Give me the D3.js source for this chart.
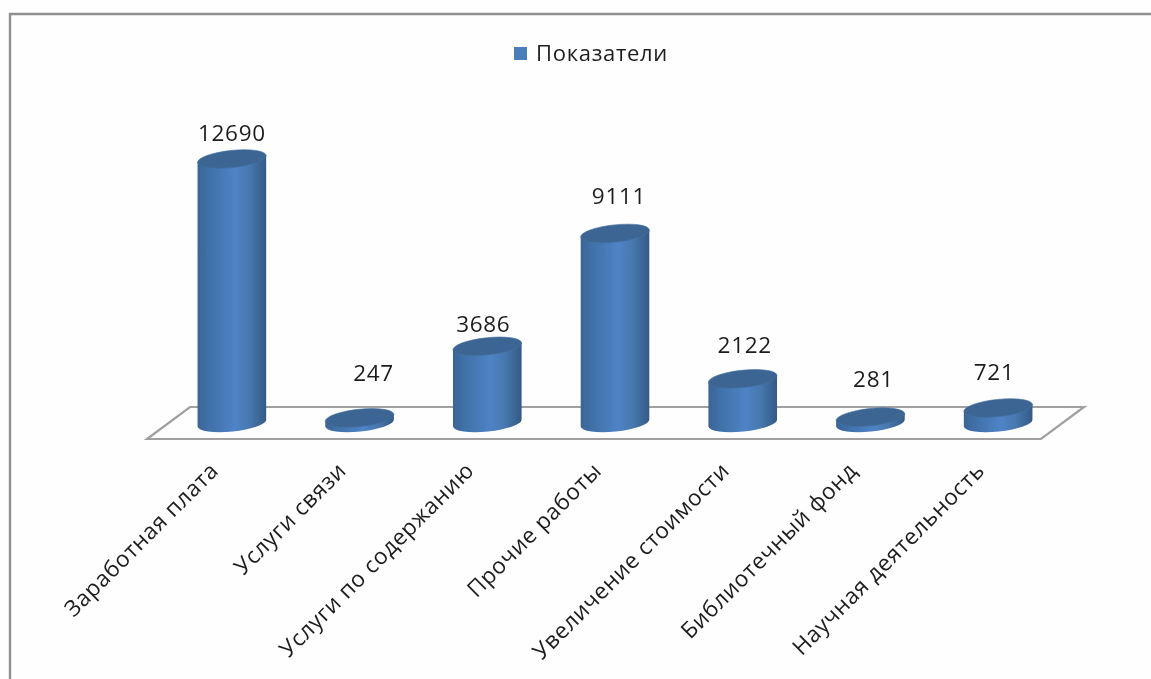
<!DOCTYPE html>
<html><head><meta charset="utf-8">
<script src="https://cdnjs.cloudflare.com/ajax/libs/d3/7.8.5/d3.min.js"></script>
<style>html,body{margin:0;padding:0;background:#fefefe}svg{display:block}text{font-family:"Open Sans",sans-serif;fill:#1f1f1f}</style>
</head><body><svg id="c" width="1151" height="679"></svg>
<script>
const categories = ["Заработная плата","Услуги связи","Услуги по содержанию","Прочие работы","Увеличение стоимости","Библиотечный фонд","Научная деятельность"];
const values = [12690,247,3686,9111,2122,281,721];
const seriesName = "Показатели";
// hand-placed label offsets, as in the source chart (from the top of each cylinder)
const labelDx = [0,14,-4,4,2,3,-4];
const labelDy = [-18,-37,-14,-29.5,-26,-30,-28];

const svg = d3.select("#c");
const x = d3.scaleBand().domain(categories).range([168,1062]).paddingInner(0);
const y = d3.scaleLinear().domain([0,12690]).range([423,159]);
const rx = 34.5, ry = 8.6, tilt = -6, rad = tilt*Math.PI/180;
const cxOf = d => x(d)+x.bandwidth()/2;

const defs = svg.append("defs");
const grad = defs.append("linearGradient").attr("id","body").attr("x1",0).attr("x2",1).attr("y1",0).attr("y2",0);
[[0,"#3a6595"],[.18,"#4071aa"],[.55,"#4f83c6"],[.75,"#4878b0"],[.92,"#3a6494"],[1,"#355a86"]].forEach(s=>grad.append("stop").attr("offset",s[0]).attr("stop-color",s[1]));
defs.append("filter").attr("id","soft").append("feGaussianBlur").attr("stdDeviation",0.4);

const root = svg.append("g").attr("filter","url(#soft)");

// frame
root.append("path").attr("d","M10,679V14H1151").attr("fill","none").attr("stroke","#8f8f8f").attr("stroke-width",2.4);
// floor
const floor = [[147,439],[190,407],[1084,407],[1041,439]];
root.append("path").attr("d",d3.line()(floor)+"Z").attr("fill","none").attr("stroke","#a0a0a0").attr("stroke-width",2.2);

// cylinders
const g = root.append("g").selectAll("g").data(categories).join("g");
const dx = rx*Math.cos(rad), dy = rx*Math.sin(rad);
g.append("path").attr("fill","url(#body)").attr("d",(d,i)=>{
  const c=cxOf(d), t=y(values[i]), b=y(0);
  return `M${c-dx},${t-dy}L${c-dx},${b-dy}A${rx},${ry} ${tilt} 0 0 ${c+dx},${b+dy}L${c+dx},${t+dy}Z`;
});
g.append("ellipse").attr("fill","#3c6594").attr("stroke","#41719f").attr("stroke-width",.6)
 .attr("rx",rx).attr("ry",ry)
 .attr("transform",(d,i)=>`translate(${cxOf(d)},${y(values[i])}) rotate(${tilt})`);

// data labels
root.append("g").selectAll("text").data(categories).join("text")
 .attr("x",(d,i)=>cxOf(d)+labelDx[i])
 .attr("y",(d,i)=>y(values[i])+labelDy[i])
 .attr("text-anchor","middle").attr("font-size",22.5).attr("letter-spacing",.7).text((d,i)=>values[i]);

// category labels
root.append("g").selectAll("text").data(categories).join("text")
 .attr("transform",d=>`translate(${cxOf(d)-12},472) rotate(-45)`)
 .attr("text-anchor","end").attr("font-size",22.5).attr("letter-spacing",.6).text(d=>d);

// legend
root.append("rect").attr("x",514).attr("y",47).attr("width",13).attr("height",13).attr("fill","#4a7ebb");
root.append("text").attr("x",536).attr("y",61).attr("font-size",22).attr("letter-spacing",.7).text(seriesName);
</script></body></html>
